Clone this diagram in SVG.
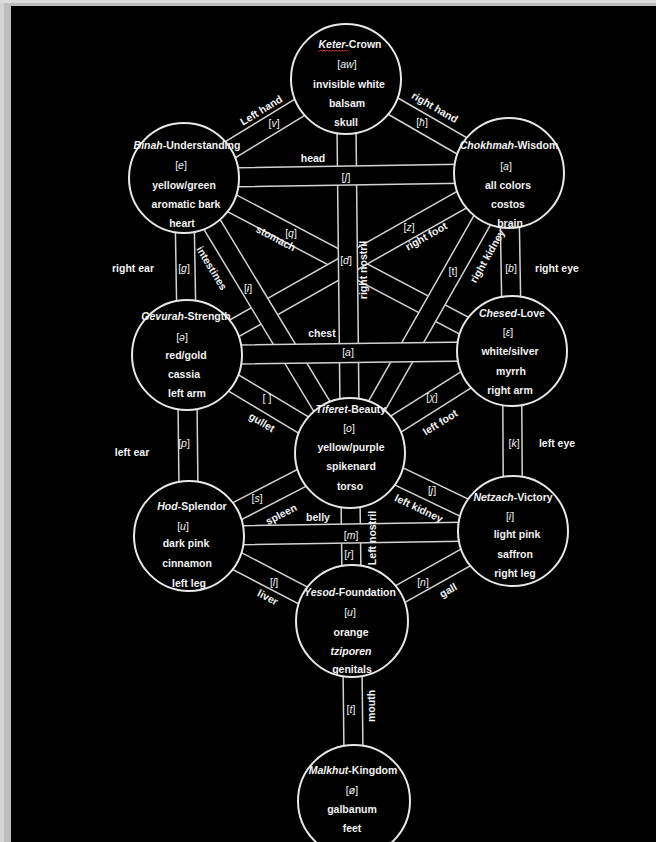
<svg xmlns="http://www.w3.org/2000/svg" width="656" height="842" viewBox="0 0 656 842">
<style>
.ch rect{fill:#000}
.ch path{fill:none;stroke:#d2d2d2;stroke-width:1.5}
.node circle{fill:#000;stroke:#e8e8e8;stroke-width:2}
text{font-family:"Liberation Sans","DejaVu Sans",Arial,sans-serif;font-size:10.5px;font-weight:bold;fill:#f2f2f2;text-anchor:middle;dominant-baseline:central}
text.ph{font-weight:normal}
.i{font-style:italic}
</style>
<rect x="0" y="0" width="656" height="842" fill="#bdbdbd"/>
<rect x="0" y="0" width="4" height="842" fill="#d4d4d4"/>
<rect x="0" y="0" width="656" height="3" fill="#dcdcdc"/>
<rect x="11" y="6" width="645" height="836" fill="#000"/>

<g id="connectors">
  <!-- Binah-Chesed -->
  <g class="ch" transform="translate(184,178) rotate(27.81)"><rect x="0" y="-9.5" width="370.8" height="19"/><path d="M0,-9.5H370.8M0,9.5H370.8"/></g>
  <!-- Gevurah-Chokhmah -->
  <g class="ch" transform="translate(187,355) rotate(-29.48)"><rect x="0" y="-9.5" width="369.9" height="19"/><path d="M0,-9.5H369.9M0,9.5H369.9"/></g>
  <!-- Binah-Keter -->
  <g class="ch" transform="translate(184,178) rotate(-31.43)"><rect x="0" y="-9.5" width="189.9" height="19"/><path d="M0,-9.5H189.9M0,9.5H189.9"/></g>
  <!-- Keter-Chokhmah -->
  <g class="ch" transform="translate(346,79) rotate(29.97)"><rect x="0" y="-9.5" width="188.2" height="19"/><path d="M0,-9.5H188.2M0,9.5H188.2"/></g>
  <!-- Binah-Gevurah -->
  <g class="ch" transform="translate(184,178) rotate(89.03)"><rect x="0" y="-9.5" width="177" height="19"/><path d="M0,-9.5H177M0,9.5H177"/></g>
  <!-- Chokhmah-Chesed -->
  <g class="ch" transform="translate(509,173) rotate(89.03)"><rect x="0" y="-9.5" width="178" height="19"/><path d="M0,-9.5H178M0,9.5H178"/></g>
  <!-- Binah-Tiferet -->
  <g class="ch" transform="translate(184,178) rotate(58.88)"><rect x="0" y="-9.5" width="321.2" height="19"/><path d="M0,-9.5H321.2M0,9.5H321.2"/></g>
  <!-- Tiferet-Chokhmah -->
  <g class="ch" transform="translate(350,453) rotate(-60.41)"><rect x="0" y="-9.5" width="322" height="19"/><path d="M0,-9.5H322M0,9.5H322"/></g>
  <!-- Tiferet-Chesed -->
  <g class="ch" transform="translate(350,453) rotate(-32.2)"><rect x="0" y="-9.5" width="191.4" height="19"/><path d="M0,-9.5H191.4M0,9.5H191.4"/></g>
  <!-- Chesed-Netzach -->
  <g class="ch" transform="translate(512,351) rotate(89.68)"><rect x="0" y="-9.5" width="180" height="19"/><path d="M0,-9.5H180M0,9.5H180"/></g>
  <!-- Gevurah-Tiferet -->
  <g class="ch" transform="translate(187,355) rotate(31.02)"><rect x="0" y="-9.5" width="190.2" height="19"/><path d="M0,-9.5H190.2M0,9.5H190.2"/></g>
  <!-- Gevurah-Hod -->
  <g class="ch" transform="translate(187,355) rotate(89.37)"><rect x="0" y="-9.5" width="181" height="19"/><path d="M0,-9.5H181M0,9.5H181"/></g>
  <!-- Tiferet-Netzach -->
  <g class="ch" transform="translate(350,453) rotate(25.57)"><rect x="0" y="-9.5" width="180.7" height="19"/><path d="M0,-9.5H180.7M0,9.5H180.7"/></g>
  <!-- Tiferet-Yesod -->
  <g class="ch" transform="translate(350,453) rotate(89.32)"><rect x="0" y="-9.5" width="168" height="19"/><path d="M0,-9.5H168M0,9.5H168"/></g>
  <!-- Hod-Tiferet -->
  <g class="ch" transform="translate(189,536) rotate(-27.28)"><rect x="0" y="-9.5" width="181.1" height="19"/><path d="M0,-9.5H181.1M0,9.5H181.1"/></g>
  <!-- Yesod-Netzach -->
  <g class="ch" transform="translate(352,621) rotate(-29.21)"><rect x="0" y="-9.5" width="184.4" height="19"/><path d="M0,-9.5H184.4M0,9.5H184.4"/></g>
  <!-- Hod-Yesod -->
  <g class="ch" transform="translate(189,536) rotate(27.54)"><rect x="0" y="-9.5" width="183.8" height="19"/><path d="M0,-9.5H183.8M0,9.5H183.8"/></g>
  <!-- Yesod-Malkhut -->
  <g class="ch" transform="translate(352,621) rotate(89.36)"><rect x="0" y="-9.5" width="180" height="19"/><path d="M0,-9.5H180M0,9.5H180"/></g>
  <!-- Keter-Tiferet -->
  <g class="ch" transform="translate(346,79) rotate(89.39)"><rect x="0" y="-9.5" width="374" height="19"/><path d="M0,-9.5H374M0,9.5H374"/></g>
  <!-- Binah-Chokhmah -->
  <g class="ch" transform="translate(184,178) rotate(-0.88)"><rect x="0" y="-9.5" width="325" height="19"/><path d="M0,-9.5H325M0,9.5H325"/></g>
  <!-- Gevurah-Chesed -->
  <g class="ch" transform="translate(187,355) rotate(-0.705)"><rect x="0" y="-9.5" width="325" height="19"/><path d="M0,-9.5H325M0,9.5H325"/></g>
  <!-- Hod-Netzach -->
  <g class="ch" transform="translate(189,536) rotate(-0.88)"><rect x="0" y="-9.5" width="324" height="19"/><path d="M0,-9.5H324M0,9.5H324"/></g>
</g>

<g id="connector-labels">
  <text transform="translate(261,110) rotate(-31.4)">Left hand</text>
  <text class="ph" x="274" y="123">[<tspan class="i">v</tspan>]</text>
  <text transform="translate(435,107) rotate(30)">right hand</text>
  <text class="ph" x="422" y="122">[<tspan class="i">ħ</tspan>]</text>
  <text x="313" y="158">head</text>
  <text class="ph" x="346" y="177">[<tspan class="i">ʃ</tspan>]</text>
  <text x="133" y="268">right ear</text>
  <text class="ph" x="184" y="268">[<tspan class="i">g</tspan>]</text>
  <text x="557" y="268">right eye</text>
  <text class="ph" x="511" y="268">[<tspan class="i">b</tspan>]</text>
  <text transform="translate(212,268) rotate(58.9)">intestines</text>
  <text class="ph" x="248" y="288">[<tspan class="i">ɨ</tspan>]</text>
  <text transform="translate(276,238) rotate(27.8)">stomach</text>
  <text class="ph" x="291" y="233">[<tspan class="i">q</tspan>]</text>
  <text transform="translate(426,236) rotate(-29.5)">right foot</text>
  <text class="ph" x="409" y="227">[<tspan class="i">z</tspan>]</text>
  <text transform="translate(487,256) rotate(-60.4)">right kidney</text>
  <text class="ph" x="453" y="271">[t]</text>
  <text transform="translate(363,270) rotate(-90)">right nostril</text>
  <text class="ph" x="346" y="260">[<tspan class="i">d</tspan>]</text>
  <text x="322" y="333">chest</text>
  <text class="ph" x="348" y="352">[<tspan class="i">a</tspan>]</text>
  <text transform="translate(262,422) rotate(31)">gullet</text>
  <text class="ph" x="267" y="398">[ ]</text>
  <text transform="translate(440,422) rotate(-32.2)">left foot</text>
  <text class="ph" x="432" y="397">[<tspan class="i">χ</tspan>]</text>
  <text x="132" y="452">left ear</text>
  <text class="ph" x="184" y="443">[<tspan class="i">p</tspan>]</text>
  <text x="557" y="443">left eye</text>
  <text class="ph" x="514" y="443">[<tspan class="i">k</tspan>]</text>
  <text transform="translate(419,508) rotate(25.6)">left kidney</text>
  <text class="ph" x="432" y="490">[<tspan class="i">j</tspan>]</text>
  <text transform="translate(281,514) rotate(-27.3)">spleen</text>
  <text class="ph" x="257" y="498">[<tspan class="i">s</tspan>]</text>
  <text x="318" y="517">belly</text>
  <text class="ph" x="351" y="535">[<tspan class="i">m</tspan>]</text>
  <text transform="translate(372,538) rotate(-90)">Left nostril</text>
  <text class="ph" x="349" y="554">[<tspan class="i">r</tspan>]</text>
  <text transform="translate(268,597) rotate(27.5)">liver</text>
  <text class="ph" x="274" y="582">[<tspan class="i">l</tspan>]</text>
  <text transform="translate(448,590) rotate(-29.2)">gall</text>
  <text class="ph" x="423" y="582">[<tspan class="i">n</tspan>]</text>
  <text transform="translate(371,706) rotate(-90)">mouth</text>
  <text class="ph" x="351" y="709">[<tspan class="i">t</tspan>]</text>
</g>

<g id="keter" class="node">
  <circle cx="346" cy="79" r="55"/>
  <text x="350" y="44"><tspan class="i">Keter</tspan>-Crown</text>
  <path d="M318,50 l1.5,1.5 l1.5,-1.5 l1.5,1.5 l1.5,-1.5 l1.5,1.5 l1.5,-1.5 l1.5,1.5 l1.5,-1.5 l1.5,1.5 l1.5,-1.5 l1.5,1.5 l1.5,-1.5 l1.5,1.5 l1.5,-1.5 l1.5,1.5 l1.5,-1.5 l1.5,1.5 l1.5,-1.5 l1.5,1.5 l1.5,-1.5" fill="none" stroke="#d02020" stroke-width="1"/>
  <text class="ph" x="347" y="64">[<tspan class="i">aw</tspan>]</text>
  <text x="349" y="84">invisible white</text>
  <text x="347" y="103">balsam</text>
  <text x="346" y="122">skull</text>
</g>
<g id="binah" class="node">
  <circle cx="184" cy="178" r="55"/>
  <text x="187" y="145"><tspan class="i">Binah</tspan>-Understanding</text>
  <text class="ph" x="181" y="165">[<tspan class="i">e</tspan>]</text>
  <text x="184" y="185">yellow/green</text>
  <text x="186" y="204">aromatic bark</text>
  <text x="182" y="223">heart</text>
</g>
<g id="chokhmah" class="node">
  <circle cx="509" cy="173" r="55"/>
  <text x="509" y="145"><tspan class="i">Chokhmah</tspan>-Wisdom</text>
  <text class="ph" x="506" y="166">[<tspan class="i">a</tspan>]</text>
  <text x="508" y="185">all colors</text>
  <text x="508" y="204">costos</text>
  <text x="510" y="223">brain</text>
</g>
<g id="gevurah" class="node">
  <circle cx="187" cy="355" r="55"/>
  <text x="186" y="316"><tspan class="i">Gevurah</tspan>-Strength</text>
  <text class="ph" x="182" y="337">[<tspan class="i">ə</tspan>]</text>
  <text x="186" y="355">red/gold</text>
  <text x="184" y="374">cassia</text>
  <text x="187" y="393">left arm</text>
</g>
<g id="chesed" class="node">
  <circle cx="512" cy="351" r="55"/>
  <text x="512" y="313"><tspan class="i">Chesed</tspan>-Love</text>
  <text class="ph" x="508" y="332">[<tspan class="i">ɛ</tspan>]</text>
  <text x="510" y="351">white/silver</text>
  <text x="511" y="371">myrrh</text>
  <text x="510" y="390">right arm</text>
</g>
<g id="tiferet" class="node">
  <circle cx="350" cy="453" r="55"/>
  <text x="351" y="409"><tspan class="i">Tiferet</tspan>-Beauty</text>
  <text class="ph" x="349" y="428">[<tspan class="i">o</tspan>]</text>
  <text x="351" y="447">yellow/purple</text>
  <text x="351" y="466">spikenard</text>
  <text x="350" y="486">torso</text>
</g>
<g id="hod" class="node">
  <circle cx="189" cy="536" r="55"/>
  <text x="192" y="506"><tspan class="i">Hod</tspan>-Splendor</text>
  <text class="ph" x="183" y="526">[<tspan class="i">u</tspan>]</text>
  <text x="186" y="543">dark pink</text>
  <text x="187" y="563">cinnamon</text>
  <text x="189" y="583">left leg</text>
</g>
<g id="netzach" class="node">
  <circle cx="513" cy="531" r="55"/>
  <text x="513" y="497"><tspan class="i">Netzach</tspan>-Victory</text>
  <text class="ph" x="510" y="516">[<tspan class="i">i</tspan>]</text>
  <text x="517" y="534">light pink</text>
  <text x="515" y="554">saffron</text>
  <text x="515" y="573">right leg</text>
</g>
<g id="yesod" class="node">
  <circle cx="352" cy="621" r="56"/>
  <text x="350" y="592"><tspan class="i">Yesod</tspan>-Foundation</text>
  <text class="ph" x="350" y="612">[<tspan class="i">u</tspan>]</text>
  <text x="351" y="632"><tspan>orange</tspan></text>
  <text x="351" y="651" class="i">tziporen</text>
  <text x="352" y="669">genitals</text>
</g>
<g id="malkhut" class="node">
  <circle cx="354" cy="801" r="56"/>
  <text x="353" y="770"><tspan class="i">Malkhut</tspan>-Kingdom</text>
  <text class="ph" x="352" y="790">[<tspan class="i">ø</tspan>]</text>
  <text x="352" y="809">galbanum</text>
  <text x="352" y="828">feet</text>
</g>
</svg>
